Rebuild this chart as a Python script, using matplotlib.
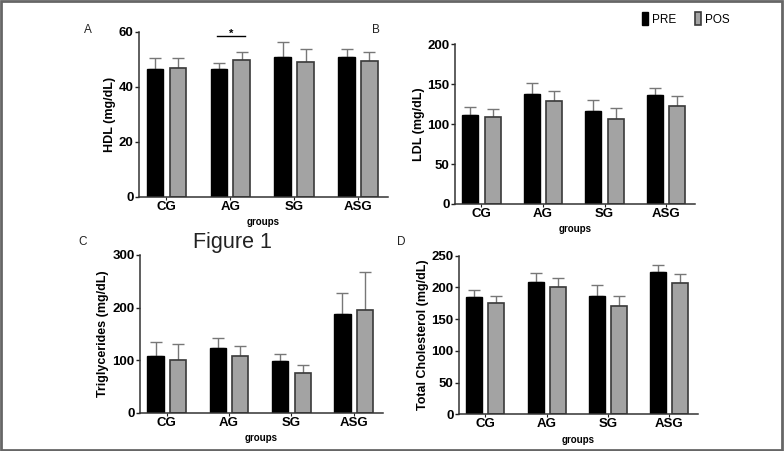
import numpy as np
import matplotlib.pyplot as plt

plt.rcParams['font.family'] = ['Liberation Sans', 'DejaVu Sans']

## Data ##########################################################
groups = ['CG', 'AG', 'SG', 'ASG']
# mean values (PRE / POS) and upper SD
hdl_pre  = [46.3, 46.3, 50.7, 50.7]
hdl_pos  = [46.9, 49.8, 48.9, 49.2]
hdl_pre_err = [4.2, 2.4, 5.4, 3.1]
hdl_pos_err = [3.4, 2.7, 4.9, 3.3]

ldl_pre  = [111, 138, 116.5, 136]
ldl_pos  = [108.6, 129, 106.5, 123]
ldl_pre_err = [11, 13, 13.4, 9]
ldl_pos_err = [10, 13, 13.3, 12]

tg_pre  = [108.4, 123.6, 98.3, 187]
tg_pos  = [99.6, 108.4, 76.1, 194.7]
tg_pre_err = [26.6, 17.8, 13.9, 40]
tg_pos_err = [31, 19.1, 13.9, 73.5]

tc_pre  = [184.9, 208.5, 185.9, 224.3]
tc_pos  = [175.4, 200.1, 170.2, 206.4]
tc_pre_err = [10.5, 14.7, 17.4, 10.5]
tc_pos_err = [11.6, 15.2, 16.8, 14.2]

panels = [
    # letter, ylabel, pre, pos, pre_err, pos_err, ymax, step, axes rect
    ('A', 'HDL (mg/dL)', hdl_pre, hdl_pos, hdl_pre_err, hdl_pos_err, 60, 20, [0.1773, 0.5639, 0.3176, 0.3658]),
    ('B', 'LDL (mg/dL)', ldl_pre, ldl_pos, ldl_pre_err, ldl_pos_err, 200, 50, [0.5804, 0.5477, 0.3061, 0.3541]),
    ('C', 'Triglycerides (mg/dL)', tg_pre, tg_pos, tg_pre_err, tg_pos_err, 300, 100, [0.1786, 0.0849, 0.3099, 0.3497]),
    ('D', 'Total Cholesterol (mg/dL)', tc_pre, tc_pos, tc_pre_err, tc_pos_err, 250, 50, [0.5855, 0.0814, 0.3048, 0.3516]),
]
letter_pos = {'A': (88, 30), 'B': (376, 30), 'C': (83, 242), 'D': (401, 242)}

## Plot ##########################################################
fig = plt.figure(figsize=(7.84, 4.51), dpi=100)
W, H = 784, 451
x = np.arange(len(groups))
bw = 0.26
off = 0.18
axes = {}
for letter, ylab, pre, pos, pre_e, pos_e, ymax, step, rect in panels:
    ax = fig.add_axes(rect)
    axes[letter] = ax
    ax.errorbar(x - off, pre, yerr=[np.zeros(4), pre_e], fmt='none', ecolor='#777777',
                elinewidth=1.0, capsize=4, capthick=1.0, zorder=1)
    ax.errorbar(x + off, pos, yerr=[np.zeros(4), pos_e], fmt='none', ecolor='#777777',
                elinewidth=1.0, capsize=4, capthick=1.0, zorder=1)
    ax.bar(x - off, pre, bw, color='black', edgecolor='black', linewidth=1.0, zorder=2, label='PRE')
    ax.bar(x + off, pos, bw, color='#a3a3a3', edgecolor='#3a3a3a', linewidth=1.2, zorder=2, label='POS')
    ax.set_xlim(-0.43, 3.47)
    ax.set_ylim(0, ymax)
    ax.set_yticks(np.arange(0, ymax + 1, step))
    ax.set_xticks(x)
    ax.set_xticklabels(groups, fontsize=9.5, fontweight='bold')
    for t in ax.get_yticklabels():
        t.set_fontsize(9.5)
        t.set_fontweight('bold')
    ax.tick_params(axis='y', length=3, width=1.0, pad=1, colors='#222222')
    ax.tick_params(axis='x', length=2, width=0.8, pad=1, colors='#222222')
    for t in ax.get_xticklabels() + ax.get_yticklabels():
        t.set_color('black')
    ax.spines['top'].set_visible(False)
    ax.spines['right'].set_visible(False)
    for s in ['left', 'bottom']:
        ax.spines[s].set_color('#333333')
        ax.spines[s].set_linewidth(1.1)
    ax.set_ylabel(ylab, fontsize=9, fontweight='bold', labelpad=2)
    ax.set_xlabel('groups', fontsize=7, fontweight='bold', labelpad=3)
    lx, ly = letter_pos[letter]
    fig.text(lx / W, 1 - ly / H, letter, fontsize=8.5, ha='center', va='center', color='#222222')

# significance mark on HDL AG
axA = axes['A']
axA.plot([1 - off - 0.03, 1 + off + 0.05], [58.4, 58.4], color='black', lw=1.0, clip_on=False)
axA.text(1 + 0.01, 59.2, '*', ha='center', va='center', fontsize=8, fontweight='bold')

fig.text(232 / W, 1 - 242 / H, 'Figure 1', fontsize=15.5, ha='center', va='center', color='#222222')

handles, labels = axes['B'].get_legend_handles_labels()
fig.legend(handles, labels, loc='center', bbox_to_anchor=(686 / W, 1 - 19 / H), ncol=2, frameon=False,
           fontsize=8.5, handlelength=0.5, handleheight=1.3, handletextpad=0.35, columnspacing=1.6)

# thin gray frame around the figure
fig.patches.append(plt.Rectangle((0.001, 0.002), 0.997, 0.996, transform=fig.transFigure,
                                 fill=False, edgecolor='#666666', linewidth=2))

fig.savefig('out.png', dpi=100)
